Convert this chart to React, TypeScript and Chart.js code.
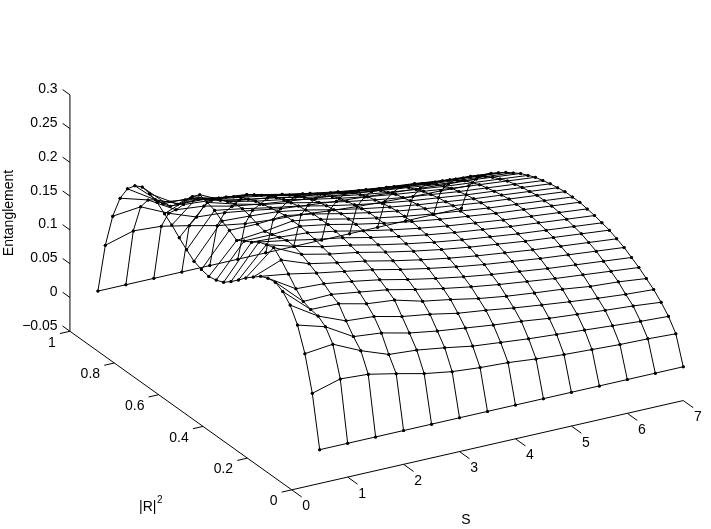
import React, { useEffect, useRef } from "react";
import { Chart, registerables } from "chart.js";
Chart.register(...registerables);

const sValues = [0.5, 1, 1.5, 2, 2.5, 3, 3.5, 4, 4.5, 5, 5.5, 6, 6.5, 7];
const rValues = Array.from({ length: 31 }, (_, i) => i / 30);
const r00 = [0,0,0,0,0,0,0,0,0,0,0,0,0,0];
const r01 = [.0756,.0875,.0849,.0764,.067,.0605,.057,.055,.051,.048,.046,.044,.043,.041];
const r02 = [.1265,.131,.112,.097,.094,.088,.081,.077,.073,.07,.067,.064,.061,.059];
const r03 = [.161,.149,.125,.121,.1115,.105,.1,.095,.091,.086,.0825,.079,.076,.072];
const r04 = [.1827,.157,.1405,.1375,.128,.122,.114,.109,.103,.098,.0933,.089,.0854,.083];
const r05 = [.195,.159,.158,.1485,.1445,.1335,.1265,.1185,.1125,.108,.104,.0987,.096,.0915];
const r06 = [.201,.163,.164,.158,.152,.143,.135,.128,.122,.117,.112,.108,.104,.1];
const r07 = [.199,.174,.172,.166,.159,.15,.142,.135,.129,.124,.119,.115,.111,.107];
const r08 = [.194,.188,.18,.173,.166,.157,.149,.142,.136,.131,.126,.122,.118,.114];
const r09 = [.185,.201,.186,.178,.171,.162,.154,.147,.141,.136,.131,.127,.123,.119];
const r10 = [.176,.2115,.192,.183,.176,.167,.159,.152,.146,.141,.136,.132,.128,.124];
const r11 = [.165,.208,.196,.186,.179,.17,.162,.155,.149,.144,.139,.135,.131,.127];
const r12 = [.155,.204,.197,.189,.182,.173,.165,.158,.152,.147,.142,.138,.134,.13];
const r13 = [.146,.196,.194,.191,.184,.175,.167,.16,.154,.149,.144,.14,.136,.132];
const r14 = [.1415,.19,.19,.193,.186,.177,.169,.162,.156,.151,.146,.142,.138,.134];
const r15 = [.139,.183,.187,.193,.186,.177,.169,.162,.156,.151,.146,.142,.138,.134];
const r16 = r14Copy();
function r14Copy() { return [.1415,.19,.19,.193,.186,.177,.169,.162,.156,.151,.146,.142,.138,.134]; }
const r17 = [.146,.196,.194,.191,.184,.175,.167,.16,.154,.149,.144,.14,.136,.132];
const r18 = [.155,.204,.197,.189,.182,.173,.165,.158,.152,.147,.142,.138,.134,.13];
const r19 = [.165,.208,.196,.186,.179,.17,.162,.155,.149,.144,.139,.135,.131,.127];
const r20 = [.176,.2115,.192,.183,.176,.167,.159,.152,.146,.141,.136,.132,.128,.124];
const r21 = [.185,.201,.186,.178,.171,.162,.154,.147,.141,.136,.131,.127,.123,.119];
const r22 = [.194,.188,.18,.173,.166,.157,.149,.142,.136,.131,.126,.122,.118,.114];
const r23 = [.199,.174,.172,.166,.159,.15,.142,.135,.129,.124,.119,.115,.111,.107];
const r24 = [.201,.163,.164,.158,.152,.143,.135,.128,.122,.117,.112,.108,.104,.1];
const r25 = [.195,.159,.158,.1485,.1445,.1335,.1265,.1185,.1125,.108,.104,.0987,.096,.0915];
const r26 = [.1827,.157,.1405,.1375,.128,.122,.114,.109,.103,.098,.0933,.089,.0854,.083];
const r27 = [.161,.149,.125,.121,.1115,.105,.1,.095,.091,.086,.0825,.079,.076,.072];
const r28 = [.1265,.131,.112,.097,.094,.088,.081,.077,.073,.07,.067,.064,.061,.059];
const r29 = [.0756,.0875,.0849,.0764,.067,.0605,.057,.055,.051,.048,.046,.044,.043,.041];
const r30 = [0,0,0,0,0,0,0,0,0,0,0,0,0,0];
const rows = [r00,r01,r02,r03,r04,r05,r06,r07,r08,r09,r10,r11,r12,r13,r14,r15,r16,r17,r18,r19,r20,r21,r22,r23,r24,r25,r26,r27,r28,r29,r30];

const sTicks = [0, 1, 2, 3, 4, 5, 6, 7];
const rTicks = [0, 0.2, 0.4, 0.6, 0.8, 1];
const rTickLabels = ["0", "0.2", "0.4", "0.6", "0.8", "1"];
const eTicks = [-0.05, 0, 0.05, 0.1, 0.15, 0.2, 0.25, 0.3];
const eTickLabels = ["\u22120.05", "0", "0.05", "0.1", "0.15", "0.2", "0.25", "0.3"];

const px = (s: number, r: number) => 291 + 56.57 * s - 224.3 * r;
const py = (s: number, r: number, e: number) => 493.3 - 12.95 * s - 161 * r - 686 * (e + 0.05);
const pt = (s: number, r: number, e: number) => ({ x: px(s, r), y: py(s, r, e) });

const mesh = (data: any[], radius: number) => ({
  data, showLine: true, borderColor: "#000", borderWidth: 1, pointRadius: radius,
  pointBackgroundColor: "#000", pointBorderWidth: 0, fill: false, tension: 0,
});

export default function App() {
  const ref = useRef<HTMLCanvasElement>(null);
  useEffect(() => {
    const datasets: any[] = [];
    rows.forEach((row, i) => datasets.push(mesh(row.map((e, j) => pt(sValues[j], rValues[i], e)), 1.5)));
    sValues.forEach((s, j) => datasets.push(mesh(rows.map((row, i) => pt(s, rValues[i], row[j])), 1.5)));
    datasets.push(mesh([pt(0, 0, -0.05), pt(7, 0, -0.05)], 0));
    datasets.push(mesh([pt(0, 0, -0.05), pt(0, 1, -0.05)], 0));
    datasets.push(mesh([pt(0, 1, -0.05), pt(0, 1, 0.3)], 0));
    sTicks.forEach((s) => datasets.push(mesh([pt(s, 0, -0.05), pt(s, -0.045, -0.05)], 0)));
    rTicks.forEach((r) => datasets.push(mesh([pt(0, r, -0.05), pt(-0.18, r, -0.05)], 0)));
    eTicks.forEach((e) => datasets.push(mesh([pt(0, 1, e), pt(0, 1.033, e)], 0)));

    const labels = {
      id: "labels",
      afterDatasetsDraw(c: any) {
        const g = c.ctx, X = c.scales.x, Y = c.scales.y;
        g.save();
        g.fillStyle = "#000";
        g.textBaseline = "middle";
        g.font = "14px 'Liberation Sans'";
        sTicks.forEach((s) => {
          g.textAlign = "center";
          g.fillText(String(s), X.getPixelForValue(px(s, 0) + 14.7), Y.getPixelForValue(py(s, 0, -0.05) + 17));
        });
        rTicks.forEach((r, i) => {
          g.textAlign = "right";
          g.fillText(rTickLabels[i], X.getPixelForValue(px(0, r) - 14.4), Y.getPixelForValue(py(0, r, -0.05) + 11.6));
        });
        eTicks.forEach((e, i) => {
          g.textAlign = "right";
          g.fillText(eTickLabels[i], X.getPixelForValue(px(0, 1) - 12.5), Y.getPixelForValue(py(0, 1, e) - 5.5));
        });
        g.textAlign = "center";
        g.fillText("S", 466, 520);
        g.textAlign = "left";
        g.fillText("|R|", 139, 507);
        g.font = "10px 'Liberation Sans'";
        g.fillText("2", 157, 500);
        g.font = "14px 'Liberation Sans'";
        g.translate(9, 213);
        g.rotate(-Math.PI / 2);
        g.textAlign = "center";
        g.fillText("Entanglement", 0, 0);
        g.restore();
      },
    };

    const chart = new Chart(ref.current!, {
      type: "scatter",
      data: { datasets },
      plugins: [labels],
      options: {
        animation: false,
        responsive: false,
        layout: { padding: 0 },
        plugins: { legend: { display: false }, tooltip: { enabled: false } },
        scales: {
          x: { type: "linear", min: 0, max: 711, display: false },
          y: { type: "linear", min: 0, max: 529, reverse: true, display: false },
        },
      },
    });
    return () => chart.destroy();
  }, []);
  return <canvas ref={ref} width={711} height={529} style={{ position: "absolute", left: 0, top: 0, display: "block" }} />;
}
